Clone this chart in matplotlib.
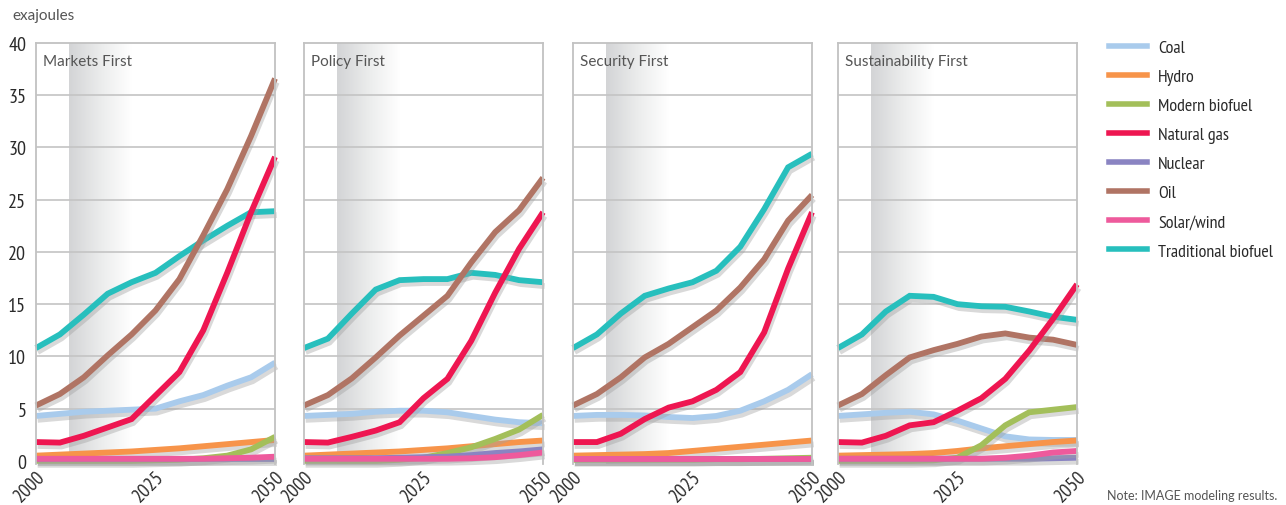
import numpy as np
import matplotlib
matplotlib.use("Agg")
import matplotlib.pyplot as plt
from matplotlib.lines import Line2D
import matplotlib.patheffects as pe
from matplotlib.colors import LinearSegmentedColormap
from matplotlib import font_manager as fm

years = [2000, 2005, 2010, 2015, 2020, 2025, 2030, 2035, 2040, 2045, 2050]
scenarios = ["Markets First", "Policy First", "Security First", "Sustainability First"]
fuels = ["Coal", "Hydro", "Modern biofuel", "Natural gas", "Nuclear", "Oil",
         "Solar/wind", "Traditional biofuel"]
colors = {"Coal": "#a9cbec", "Hydro": "#f7944a", "Modern biofuel": "#a3bf5a",
          "Natural gas": "#ee1651", "Nuclear": "#8a84c2", "Oil": "#b07464",
          "Solar/wind": "#ee5a9c", "Traditional biofuel": "#27bfbd"}

markets_first = {
    "Coal":                [4.3, 4.5, 4.7, 4.8, 4.9, 5.0, 5.7, 6.3, 7.2, 8.0, 9.4],
    "Hydro":               [0.5, 0.6, 0.7, 0.8, 0.9, 1.05, 1.2, 1.4, 1.6, 1.8, 2.0],
    "Modern biofuel":      [0.0, 0.0, 0.0, 0.0, 0.0, 0.05, 0.1, 0.25, 0.5, 1.1, 2.3],
    "Natural gas":         [1.8, 1.75, 2.4, 3.2, 4.0, 6.25, 8.5, 12.5, 18.0, 23.8, 29.1],
    "Nuclear":             [0.2, 0.2, 0.2, 0.2, 0.2, 0.2, 0.2, 0.2, 0.2, 0.2, 0.2],
    "Oil":                 [5.3, 6.4, 8.0, 10.1, 12.1, 14.4, 17.4, 21.6, 26.0, 31.1, 36.6],
    "Solar/wind":          [0.2, 0.2, 0.2, 0.2, 0.2, 0.2, 0.2, 0.2, 0.25, 0.3, 0.4],
    "Traditional biofuel": [10.8, 12.1, 14.0, 16.0, 17.1, 18.0, 19.6, 21.1, 22.5, 23.8, 23.9],
}
policy_first = {
    "Coal":                [4.3, 4.4, 4.5, 4.7, 4.8, 4.8, 4.65, 4.3, 3.95, 3.7, 3.6],
    "Hydro":               [0.5, 0.6, 0.7, 0.8, 0.9, 1.05, 1.2, 1.4, 1.6, 1.8, 1.95],
    "Modern biofuel":      [0.0, 0.0, 0.0, 0.0, 0.1, 0.3, 0.75, 1.3, 2.1, 3.0, 4.4],
    "Natural gas":         [1.8, 1.75, 2.3, 2.9, 3.7, 6.0, 7.85, 11.5, 16.1, 20.3, 23.8],
    "Nuclear":             [0.25, 0.25, 0.25, 0.25, 0.3, 0.35, 0.4, 0.55, 0.75, 0.9, 1.1],
    "Oil":                 [5.3, 6.3, 7.9, 9.9, 12.0, 13.9, 15.8, 19.0, 21.9, 24.0, 27.1],
    "Solar/wind":          [0.2, 0.2, 0.2, 0.2, 0.2, 0.2, 0.2, 0.25, 0.35, 0.55, 0.8],
    "Traditional biofuel": [10.8, 11.7, 14.1, 16.4, 17.3, 17.4, 17.4, 18.0, 17.8, 17.3, 17.1],
}
security_first = {
    "Coal":                [4.3, 4.4, 4.4, 4.35, 4.2, 4.1, 4.3, 4.8, 5.7, 6.8, 8.3],
    "Hydro":               [0.5, 0.55, 0.6, 0.65, 0.75, 0.95, 1.15, 1.35, 1.55, 1.75, 1.95],
    "Modern biofuel":      [0.1, 0.1, 0.1, 0.1, 0.1, 0.1, 0.15, 0.15, 0.2, 0.25, 0.3],
    "Natural gas":         [1.8, 1.8, 2.6, 4.0, 5.1, 5.7, 6.8, 8.5, 12.3, 18.4, 23.8],
    "Nuclear":             [0.2, 0.2, 0.2, 0.2, 0.2, 0.2, 0.2, 0.2, 0.2, 0.2, 0.2],
    "Oil":                 [5.3, 6.4, 8.0, 9.9, 11.2, 12.8, 14.4, 16.6, 19.3, 23.0, 25.45],
    "Solar/wind":          [0.2, 0.2, 0.2, 0.2, 0.2, 0.2, 0.2, 0.2, 0.2, 0.2, 0.2],
    "Traditional biofuel": [10.8, 12.1, 14.1, 15.8, 16.5, 17.1, 18.2, 20.5, 24.1, 28.1, 29.4],
}
sustainability_first = {
    "Coal":                [4.3, 4.45, 4.6, 4.7, 4.45, 3.85, 3.1, 2.35, 2.05, 2.0, 2.0],
    "Hydro":               [0.5, 0.55, 0.6, 0.65, 0.75, 0.95, 1.2, 1.4, 1.6, 1.8, 1.95],
    "Modern biofuel":      [0.0, 0.0, 0.0, 0.0, 0.05, 0.3, 1.5, 3.4, 4.65, 4.9, 5.15],
    "Natural gas":         [1.8, 1.75, 2.4, 3.4, 3.7, 4.8, 6.0, 7.85, 10.55, 13.6, 16.9],
    "Nuclear":             [0.2, 0.2, 0.2, 0.2, 0.2, 0.2, 0.2, 0.2, 0.2, 0.25, 0.3],
    "Oil":                 [5.3, 6.4, 8.2, 9.9, 10.6, 11.2, 11.9, 12.2, 11.8, 11.6, 11.1],
    "Solar/wind":          [0.2, 0.2, 0.2, 0.2, 0.2, 0.2, 0.2, 0.3, 0.5, 0.8, 0.95],
    "Traditional biofuel": [10.8, 12.1, 14.3, 15.8, 15.7, 15.0, 14.8, 14.75, 14.3, 13.8, 13.5],
}
scenario_data = [markets_first, policy_first, security_first, sustainability_first]
draw_order = ["Traditional biofuel", "Oil", "Coal", "Hydro", "Modern biofuel",
              "Nuclear", "Natural gas", "Solar/wind"]

y_ticks = [0, 5, 10, 15, 20, 25, 30, 35, 40]
x_ticks = [2000, 2025, 2050]
band_start, band_fade_end = 2007, 2020

# pick a condensed sans font if one is installed
cond_path = None
for key in ["sansnarrow", "sanscondensed", "condensed", "narrow"]:
    for f in fm.fontManager.ttflist:
        fname = f.fname.lower().replace("-", "").replace("_", "")
        if key in fname and "bold" not in fname and "oblique" not in fname \
                and "italic" not in fname and "mono" not in fname and "serif" not in fname.replace("sansserif", ""):
            cond_path = f.fname
            break
    if cond_path:
        break


def cond_font(size):
    if cond_path:
        return fm.FontProperties(fname=cond_path, size=size)
    return fm.FontProperties(family="DejaVu Sans", size=size * 0.85)


light = ["Lato", "DejaVu Sans"]

W, H = 1286, 506
fig = plt.figure(figsize=(W / 100, H / 100), dpi=100)
fig.patch.set_facecolor("white")

lefts = [36, 304, 573, 838]
pw = 239
top_px, bot_px = 44, 465
grey_cmap = LinearSegmentedColormap.from_list("g", ["#d3d4d6", "#ebecec", "#ffffff"])

for i, (ax_left, name, data) in enumerate(zip(lefts, scenarios, scenario_data)):
    ax = fig.add_axes([ax_left / W, 1 - bot_px / H, pw / W, (bot_px - top_px) / H])
    ax.set_xlim(2000, 2050)
    ax.set_ylim(-0.3, 40)
    grad = np.linspace(0, 1, 256).reshape(1, -1)
    ax.imshow(grad, extent=[band_start, band_fade_end, -0.3, 40], aspect="auto",
              cmap=grey_cmap, zorder=0, interpolation="bilinear")
    for yt in y_ticks[1:-1]:
        ax.axhline(yt, color="#c4c4c4", lw=1.2, zorder=0.5)
    for f in draw_order:
        ax.plot(years, data[f], color=colors[f], lw=4.2, solid_capstyle="butt",
                solid_joinstyle="miter", zorder=2, clip_on=False,
                path_effects=[pe.SimpleLineShadow(offset=(1.2, -2.8),
                                                  shadow_color="#a0a0a0", alpha=0.4),
                              pe.Normal()])
    for s in ax.spines.values():
        s.set_color("#c2c2c2")
        s.set_linewidth(1.3)
    ax.spines["bottom"].set_visible(False)
    ax.set_xticks(x_ticks)
    ax.set_xticklabels([str(x) for x in x_ticks], rotation=45, ha="right", va="top",
                       rotation_mode="anchor", fontproperties=cond_font(14),
                       color="#2a2a2a")
    ax.tick_params(axis="both", length=0)
    ax.tick_params(axis="x", pad=2)
    if i == 0:
        ax.set_yticks(y_ticks)
        ax.set_yticklabels([str(y) for y in y_ticks], fontproperties=cond_font(14.5),
                           color="#2a2a2a")
        ax.tick_params(axis="y", pad=7)
    else:
        ax.set_yticks([])
    ax.text(0.03, 0.975, name, transform=ax.transAxes, ha="left", va="top",
            fontsize=11, family=light, color="#555555", zorder=3)

fig.text(12 / W, 1 - 16 / H, "exajoules", ha="left", va="center", fontsize=11,
         family=light, color="#555555")

handles = [Line2D([0], [0], color=colors[f], lw=4.0) for f in fuels]
fig.legend(handles, fuels, loc="upper left", bbox_to_anchor=(1102 / W, 1 - 33 / H),
           frameon=False, prop=cond_font(13), handlelength=2.1,
           handletextpad=0.6, labelspacing=0.69, labelcolor="#2a2a2a",
           borderaxespad=0, borderpad=0.4)

fig.text(1107 / W, 1 - 496 / H, "Note: IMAGE modeling results.", ha="left",
         va="center", fontsize=9, family=light, color="#555555")

fig.savefig("out.png", dpi=100, facecolor="white")
